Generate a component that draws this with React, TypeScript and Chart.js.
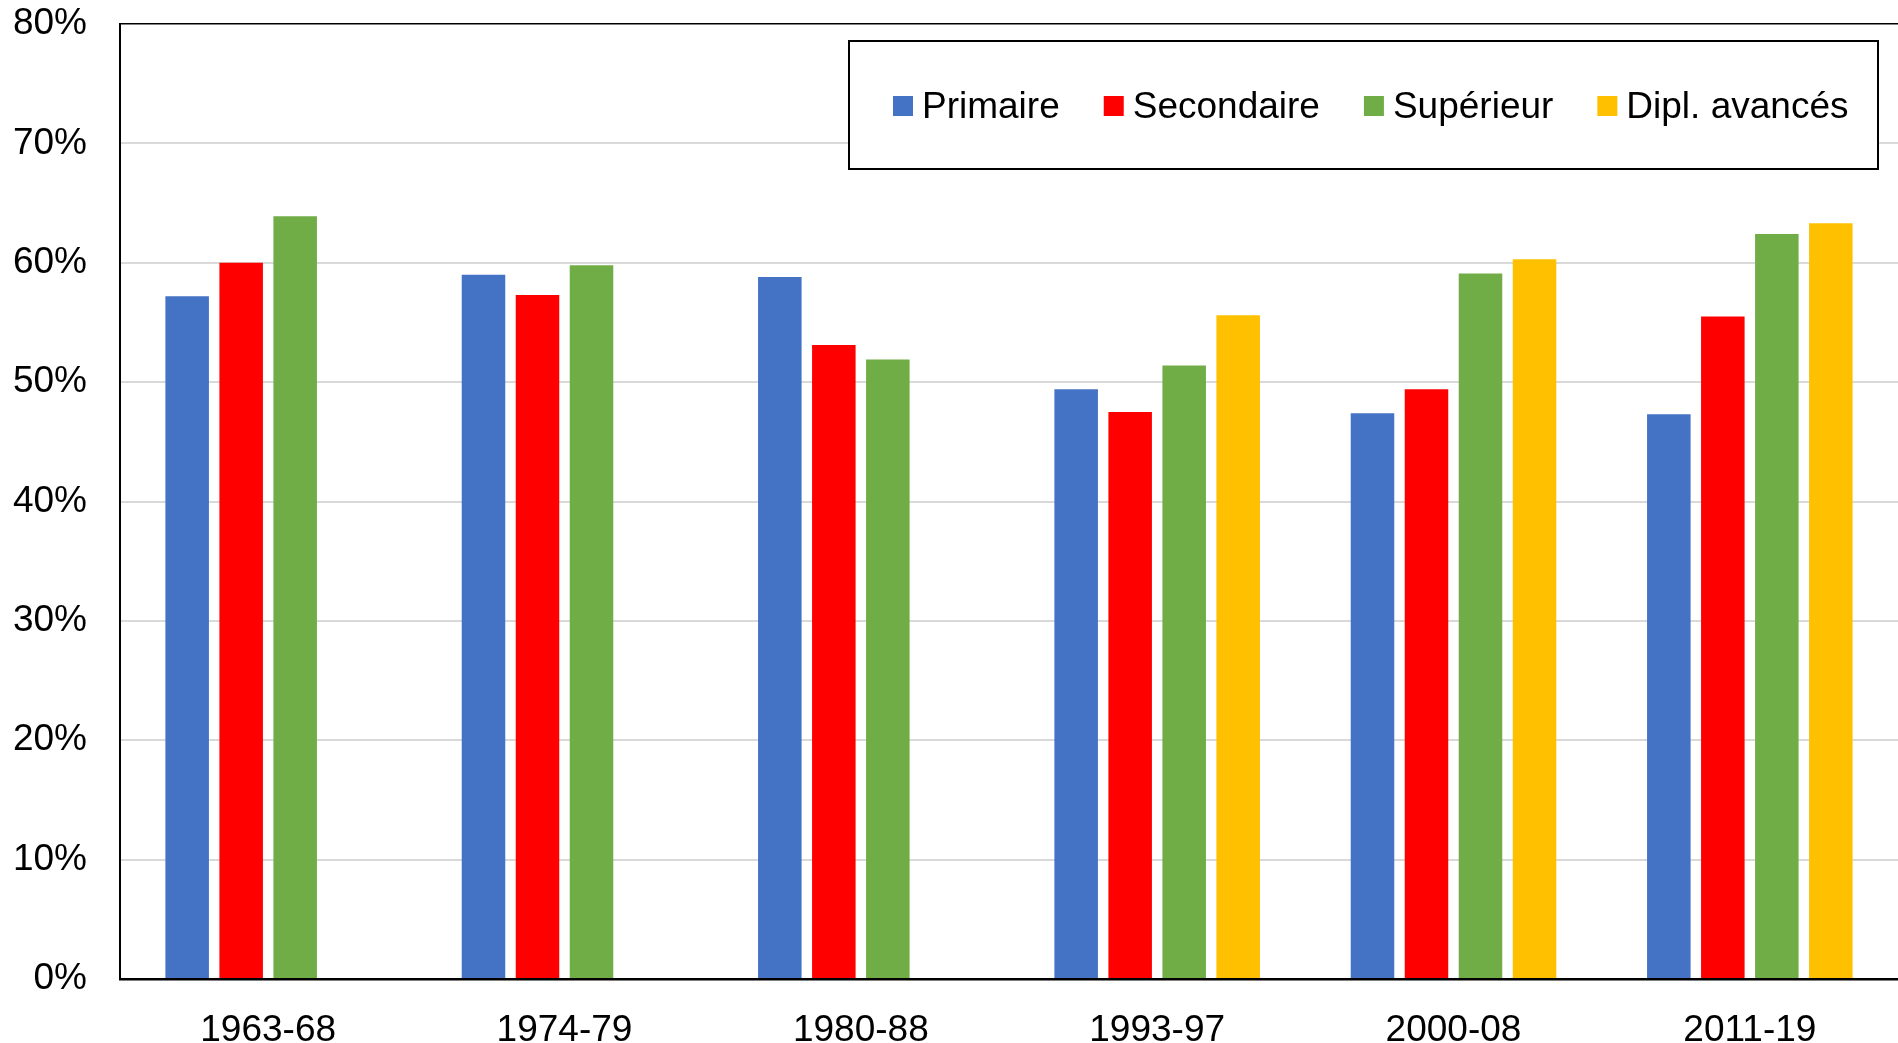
import React, { useEffect, useRef } from "react";
import { Chart, registerables } from "chart.js";

Chart.register(...registerables);

const categories = ["1963-68", "1974-79", "1980-88", "1993-97", "2000-08", "2011-19"];
const primaire = [57.2, 59.0, 58.8, 49.4, 47.4, 47.3];
const secondaire = [60.0, 57.3, 53.1, 47.5, 49.4, 55.5];
const superieur = [63.9, 59.8, 51.9, 51.4, 59.1, 62.4];
const diplAvances = [null, null, null, 55.6, 60.3, 63.3];
const seriesNames = ["Primaire", "Secondaire", "Supérieur", "Dipl. avancés"];
const seriesColors = ["#4472C4", "#FF0000", "#70AD47", "#FFC000"];
const yTicks = [0, 10, 20, 30, 40, 50, 60, 70, 80];

const FONT = '"Liberation Sans", Arial, sans-serif';

const boxedLegend = {
  id: "boxedLegend",
  afterDraw(chart: any) {
    const ctx = chart.ctx;
    const ca = chart.chartArea;
    const boxW = 1029;
    const boxH = 128;
    const left = ca.right - 20 - boxW;
    const top = ca.top + 17;
    ctx.save();
    ctx.fillStyle = "#ffffff";
    ctx.fillRect(left, top, boxW, boxH);
    ctx.strokeStyle = "#000000";
    ctx.lineWidth = 2;
    ctx.strokeRect(left, top, boxW, boxH);
    ctx.font = `37px ${FONT}`;
    ctx.textBaseline = "alphabetic";
    ctx.textAlign = "left";
    let x = left + 44;
    const sq = 20;
    const sqTop = top + 55;
    const baseline = top + 76.5;
    chart.data.datasets.forEach((ds: any) => {
      ctx.fillStyle = ds.backgroundColor;
      ctx.fillRect(x, sqTop, sq, sq);
      ctx.fillStyle = "#000000";
      const tx = x + sq + 9;
      ctx.fillText(ds.label, tx, baseline);
      x = tx + ctx.measureText(ds.label).width + 44;
    });
    ctx.restore();
  },
};

export default function App() {
  const ref = useRef<HTMLCanvasElement | null>(null);

  useEffect(() => {
    document.body.style.margin = "0";
    const canvas = ref.current;
    if (!canvas) return;
    const values = [primaire, secondaire, superieur, diplAvances];
    const chart = new Chart(canvas, {
      type: "bar",
      data: {
        labels: categories,
        datasets: values.map((v, i) => ({
          label: seriesNames[i],
          data: v as any,
          backgroundColor: seriesColors[i],
          borderWidth: 0,
          categoryPercentage: 0.729,
          barPercentage: 0.806,
        })),
      },
      options: {
        responsive: false,
        animation: false,
        devicePixelRatio: 1,
        layout: { padding: { top: 24, right: 0, left: 0, bottom: 0 } },
        plugins: {
          legend: { display: false },
          tooltip: { enabled: false },
          title: { display: false },
        },
        scales: {
          x: {
            grid: { display: false, drawTicks: false },
            border: { display: true, color: "#000000", width: 2.5 },
            ticks: {
              color: "#000000",
              font: { family: FONT, size: 37 },
              padding: 30,
              maxRotation: 0,
            },
            afterFit: (s: any) => {
              s.height = 64;
              s.paddingLeft = 0;
              s.paddingRight = 0;
            },
          },
          y: {
            min: 0,
            max: 80,
            afterBuildTicks: (s: any) => {
              s.ticks = yTicks.map((v) => ({ value: v }));
            },
            grid: {
              drawTicks: false,
              color: (c: any) => (c.tick && c.tick.value === 80 ? "#000000" : "#d9d9d9"),
              lineWidth: (c: any) => (c.tick && c.tick.value === 80 ? 1.5 : 2),
            },
            border: { display: true, color: "#000000", width: 2 },
            ticks: {
              color: "#000000",
              font: { family: FONT, size: 37 },
              padding: 33,
              callback: (v: any) => `${v}%`,
            },
            afterFit: (s: any) => {
              s.width = 120;
              s.paddingTop = 0;
              s.paddingBottom = 0;
            },
          },
        },
      },
      plugins: [boxedLegend],
    });
    return () => chart.destroy();
  }, []);

  return (
    <div style={{ width: 1898, height: 1043, background: "#ffffff" }}>
      <canvas ref={ref} width={1898} height={1043} style={{ display: "block" }} />
    </div>
  );
}
